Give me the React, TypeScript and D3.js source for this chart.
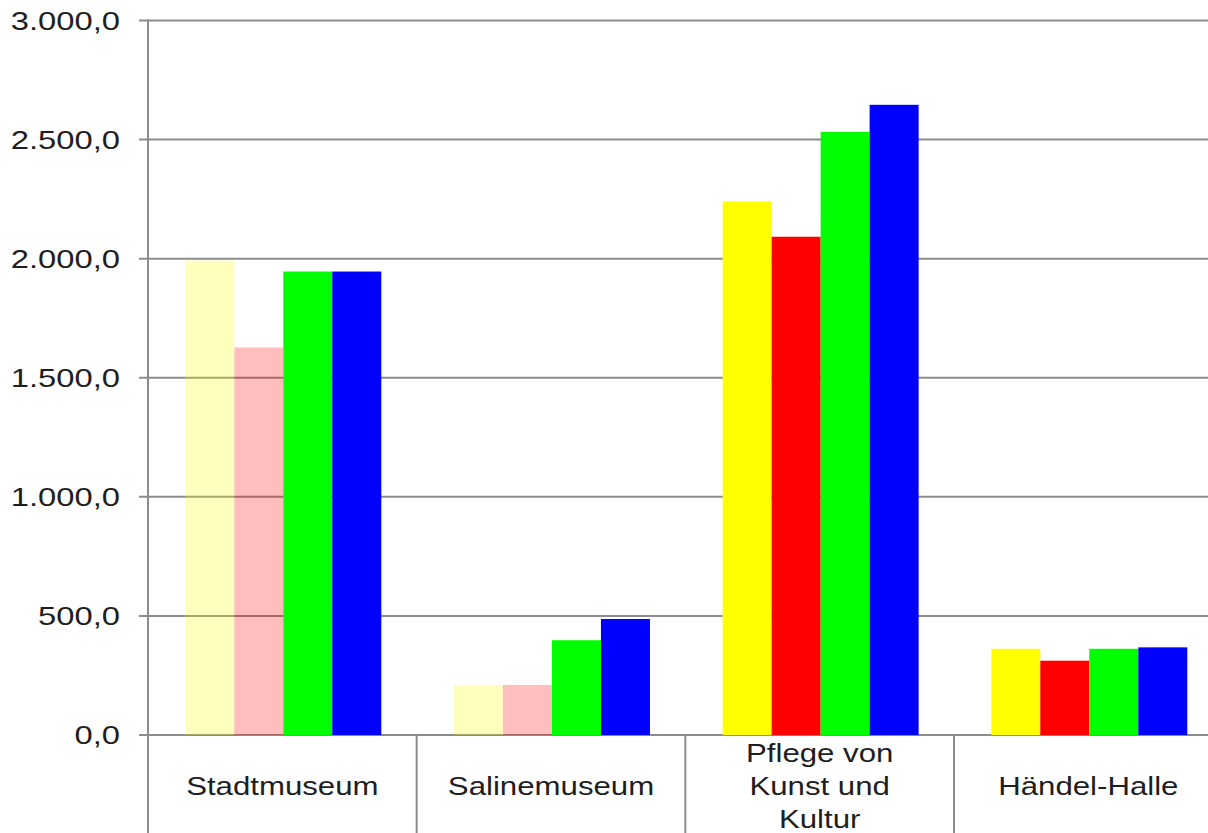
import React from "react";
import * as d3 from "d3";

const categories = ["Stadtmuseum", "Salinemuseum", "Pflege von Kunst und Kultur", "Händel-Halle"];
const categoryLines = [["Stadtmuseum"], ["Salinemuseum"], ["Pflege von", "Kunst und", "Kultur"], ["Händel-Halle"]];
const seriesNames = ["Reihe 1", "Reihe 2", "Reihe 3", "Reihe 4"];
const seriesColors = ["#ffff00", "#ff0000", "#00ff00", "#0000ff"];
const series1 = [1992, 210, 2241, 362];
const series2 = [1627, 210, 2092, 312];
const series3 = [1946, 398, 2532, 362];
const series4 = [1946, 487, 2646, 368];
const seriesValues = [series1, series2, series3, series4];
// categories in which the first two series are drawn faded
const fadedCategories = ["Stadtmuseum", "Salinemuseum"];
const fadedSeries = [0, 1];
const yTicks = [0, 500, 1000, 1500, 2000, 2500, 3000];

const W = 1208;
const H = 833;
const left = 148;
const step = (954 - 148) / 3;
const top = 20.5;
const bottom = 735;
const grid = "#8c8c8c";
const textColor = "#1e1e1e";
const font = "'Liberation Sans', Arial, sans-serif";
const fmt = (v: number) => {
  const s = d3.format(",.1f")(v);
  return s.replace(/,/g, "#").replace(/\./g, ",").replace(/#/g, ".");
};

export default function App() {
  const x = d3.scaleBand<string>().domain(categories).range([left, left + step * 4]).paddingInner(0).paddingOuter(0);
  const groupOffset = 37.3;
  const groupWidth = 196;
  const xs = d3.scaleBand<string>().domain(seriesNames).range([0, groupWidth]).padding(0);
  const y = d3.scaleLinear().domain([0, 3000]).range([bottom, top]);

  return (
    <svg width={W} height={H} style={{ position: "fixed", left: 0, top: 0, background: "#fff" }}>
      <rect x={0} y={0} width={W} height={H} fill="#fff" />
      {/* gridlines */}
      {yTicks.map((t) => (
        <line key={"g" + t} x1={139} x2={W} y1={y(t)} y2={y(t)} stroke={grid} strokeWidth={2} />
      ))}
      {/* y axis */}
      <line x1={left} x2={left} y1={top - 1} y2={H} stroke={grid} strokeWidth={2} />
      {/* category dividers */}
      {categories.map((c, i) =>
        i === 0 ? null : (
          <line key={"d" + c} x1={x(c)!} x2={x(c)!} y1={bottom} y2={H} stroke={grid} strokeWidth={2} />
        )
      )}
      {/* bars */}
      {categories.map((c, ci) =>
        seriesNames.map((s, si) => {
          const v = seriesValues[si][ci];
          const faded = fadedCategories.includes(c) && fadedSeries.includes(si);
          return (
            <rect
              key={c + s}
              x={x(c)! + groupOffset + xs(s)!}
              y={y(v)}
              width={xs.bandwidth()}
              height={y(0) - y(v)}
              fill={seriesColors[si]}
              fillOpacity={faded ? 0.26 : 1}
            />
          );
        })
      )}
      {/* y labels */}
      {yTicks.map((t) => (
        <text
          key={"l" + t}
          transform={`translate(120,${y(t)}) scale(1.26,1)`}
          textAnchor="end"
          dominantBaseline="central"
          fontFamily={font}
          fontSize={26}
          fill={textColor}
        >
          {fmt(t)}
        </text>
      ))}
      {/* category labels */}
      {categories.map((c, ci) => {
        const lines = categoryLines[ci];
        const cx = x(c)! + step / 2;
        const lh = 33;
        const cy = 786;
        return lines.map((ln, li) => (
          <text
            key={c + li}
            transform={`translate(${cx},${cy + (li - (lines.length - 1) / 2) * lh}) scale(1.2,1)`}
            textAnchor="middle"
            dominantBaseline="central"
            fontFamily={font}
            fontSize={26}
            fill={textColor}
          >
            {ln}
          </text>
        ));
      })}
    </svg>
  );
}
